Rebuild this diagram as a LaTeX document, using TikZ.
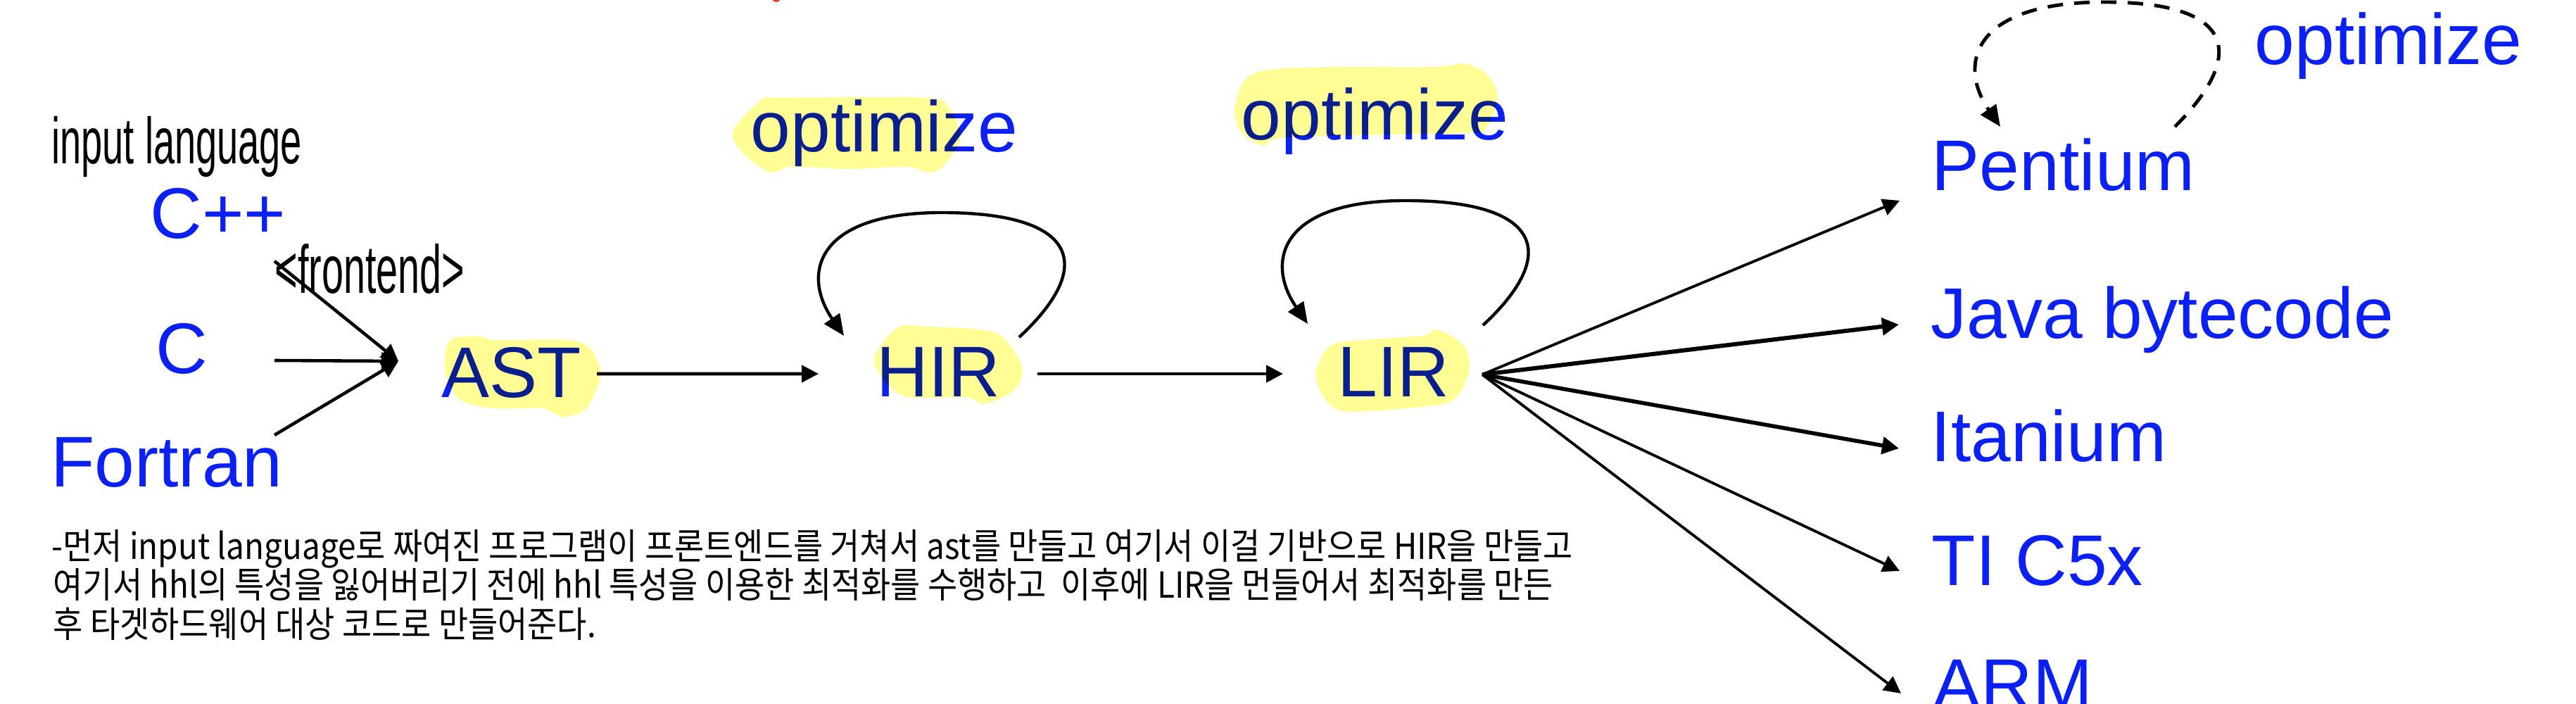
\documentclass[tikz,border=0pt]{standalone}
\usepackage{fontspec}
\usepackage{graphicx}
\setmainfont{Liberation Sans}
\newfontfamily\kofont[FakeStretch=0.9]{Noto Sans CJK KR}
\usetikzlibrary{arrows.meta,calc}
\definecolor{LangBlue}{HTML}{0A20F5}
\definecolor{MarkerYellow}{HTML}{FFFD94}
\definecolor{NoteRed}{HTML}{E8432A}

\begin{document}
\begin{tikzpicture}[
    lang/.style={anchor=base west, inner sep=0pt, text=LangBlue,
      font=\fontsize{29}{34}\selectfont},
    hand/.style={anchor=base west, inner sep=0pt, font=\fontsize{22}{26}\selectfont},
    note/.style={anchor=base west, inner sep=0pt, font=\kofont\fontsize{14.5}{17}\selectfont},
    arr/.style={-{Triangle[length=2.4mm,width=2.4mm]}, line width=1.3pt},
    selfloop/.style={-{Triangle[length=3mm,width=2.6mm]}, line width=1.25pt},
    marker/.style={fill=MarkerYellow}
  ]
    \useasboundingbox (0,0) rectangle (36.6,-10);
    \fill[NoteRed] (11.03,0) ellipse (0.05 and 0.03);

    % source languages
    \node[hand] (inlang) at (0.73,-2.33) {\scalebox{0.7}[1.2]{input language}};
    \node[lang] (cpp) at (2.13,-3.39) {C++};
    \node[hand] (front) at (3.90,-4.17) {\scalebox{0.72}[1.25]{<frontend>}};
    \node[lang] (c) at (2.21,-5.31) {C};
    \node[lang] (fortran) at (0.72,-6.92) {Fortran};

    % intermediate forms
    \node[lang] (ast) at (6.27,-5.65) {AST};
    \node[lang] (hir) at (12.45,-5.64) {HIR};
    \node[lang] (lir) at (19.00,-5.64) {LIR};
    \node[lang] (opthir) at (10.66,-2.16) {optimize};
    \node[lang] (optlir) at (17.63,-1.99) {optimize};

    % targets
    \node[lang] (pentium) at (27.44,-2.71) {Pentium};
    \node[lang] (optpent) at (32.03,-0.92) {optimize};
    \node[lang] (java) at (27.43,-4.81) {Java bytecode};
    \node[lang] (itanium) at (27.43,-6.56) {Itanium};
    \node[lang] (ti) at (27.44,-8.32) {TI C5x};
    \node[lang] (arm) at (27.46,-10.07) {ARM};

    % note
    \node[note] (note1) at (0.73,-7.95) {-먼저 input language로 짜여진 프로그램이 프론트엔드를 거쳐서 ast를 만들고 여기서 이걸 기반으로 HIR을 만들고};
    \node[note] (note2) at (0.75,-8.50) {여기서 hhl의 특성을 잃어버리기 전에 hhl 특성을 이용한 최적화를 수행하고\ \ 이후에 LIR을 먼들어서 최적화를 만든};
    \node[note] (note3) at (0.75,-9.06) {후 타겟하드웨어 대상 코드로 만들어준다.};

    % highlighter strokes
    \begin{scope}[blend mode=multiply]
      \fill[marker] plot[smooth cycle] coordinates {(6.40,-4.83) (6.83,-4.78) (7.03,-4.83)
        (8.07,-4.83) (8.40,-4.97) (8.53,-5.33) (8.33,-5.80) (8.00,-5.92) (7.70,-5.80)
        (7.00,-5.80) (6.53,-5.67) (6.32,-5.27)};
      \fill[marker] plot[smooth cycle] coordinates {(12.74,-4.66) (13.15,-4.64) (14.15,-4.73)
        (14.52,-5.22) (14.40,-5.55) (13.98,-5.74) (13.73,-5.64) (12.82,-5.62) (12.42,-5.14)};
      \fill[marker] plot[smooth cycle] coordinates {(19.12,-4.85) (20.20,-4.77) (20.41,-4.68)
        (20.78,-4.89) (20.88,-5.22) (20.70,-5.64) (20.36,-5.76) (19.20,-5.85) (18.87,-5.72)
        (18.69,-5.35) (18.83,-4.98)};
      \fill[marker] plot[smooth cycle] coordinates {(10.83,-1.41) (11.08,-1.39) (13.15,-1.39)
        (13.48,-1.53) (13.65,-1.95) (13.40,-2.36) (13.19,-2.45) (12.90,-2.37) (12.07,-2.40)
        (11.24,-2.37) (10.95,-2.45) (10.58,-2.20) (10.41,-1.87)};
      \fill[marker] plot[smooth cycle] coordinates {(17.55,-1.49) (17.96,-1.00) (20.36,-0.95)
        (20.78,-0.90) (21.11,-1.04) (21.28,-1.37) (21.11,-1.82) (20.78,-1.89) (18.29,-1.95)
        (17.96,-2.07) (17.63,-1.87)};
    \end{scope}

    % frontends
    \coordinate (merge) at (5.66,-5.13);
    \draw[arr] ([shift={(1.77,-0.32)}]cpp.base west) -- (merge);
    \draw[arr] ([shift={(1.69,0.19)}]c.base west) -- (merge);
    \draw[arr] ([shift={(3.18,0.74)}]fortran.base west) -- (merge);

    % lowering
    \draw[arr] ([shift={(2.21,0.34)}]ast.base west) -- ([shift={(-0.82,0.33)}]hir.base west);
    \draw[arr] ([shift={(2.29,0.33)}]hir.base west) -- ([shift={(-0.77,0.33)}]lir.base west);

    % optimization loops
    \draw[selfloop] ([shift={(2.03,0.85)}]hir.base west) .. controls +(1.12,1.04) and +(1.9,0)
      .. ++(-1.1,1.77) .. controls +(-1.8,0) and +(-0.6,0.87) .. ([shift={(-0.46,0.87)}]hir.base west);
    \draw[selfloop] ([shift={(2.07,1.02)}]lir.base west) .. controls +(1.12,1.04) and +(1.9,0)
      .. ++(-1.1,1.77) .. controls +(-1.8,0) and +(-0.6,0.87) .. ([shift={(-0.42,1.04)}]lir.base west);
    \draw[selfloop, line width=1.4pt, dash pattern=on 2.2mm off 1.6mm] ([shift={(3.46,0.91)}]pentium.base west)
      .. controls +(1.0,1.0) and +(1.9,0) .. ++(-1.0,1.77)
      .. controls +(-1.9,0) and +(-0.6,0.87) .. ([shift={(0.98,0.91)}]pentium.base west);

    % backends
    \coordinate (fan) at ([shift={(2.06,0.32)}]lir.base west);
    \foreach \tgt/\dy/\lw in {pentium/-0.14/1.1pt, java/0.20/1.7pt, itanium/0.19/1.6pt,
        ti/0.21/1.1pt, arm/0.22/1.1pt}
      \draw[arr, line width=\lw] (fan) -- ([shift={(-0.45,\dy)}]\tgt.base west);
\end{tikzpicture}
\end{document}
